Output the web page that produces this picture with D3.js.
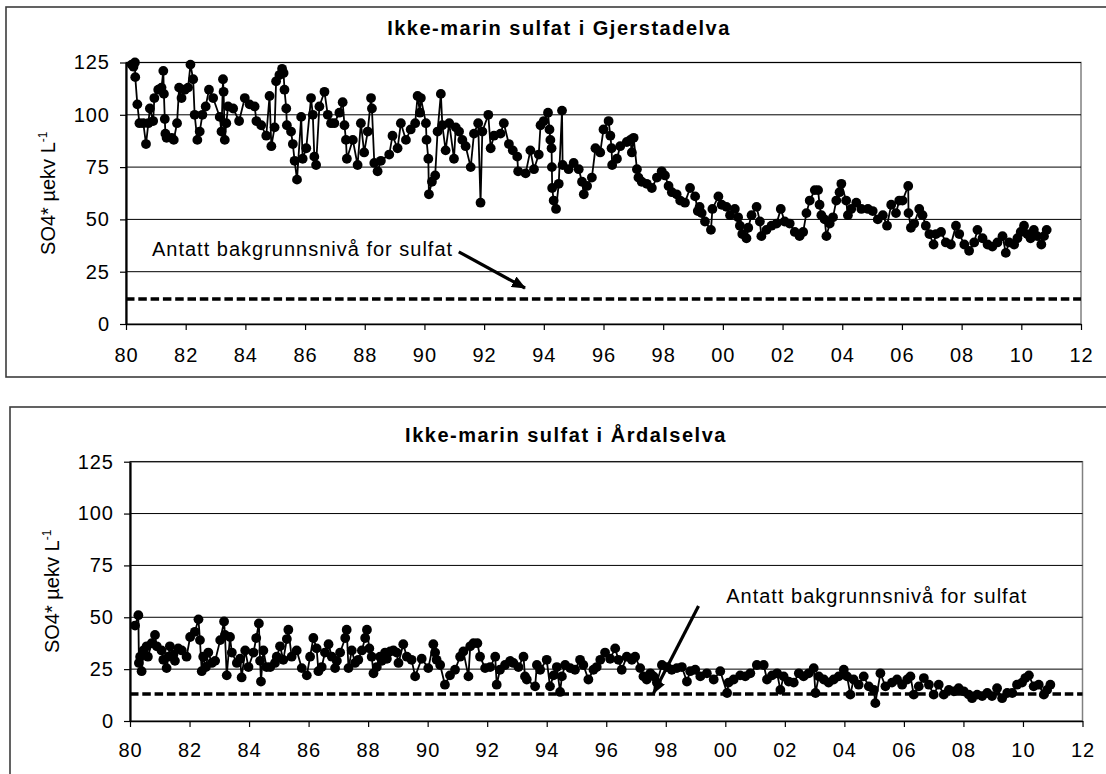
<!DOCTYPE html>
<html>
<head>
<meta charset="utf-8">
<script src="https://cdnjs.cloudflare.com/ajax/libs/d3/7.8.5/d3.min.js"></script>
<style>
  body { margin: 0; background: #fff; }
  svg text { font-family: Arial, 'Liberation Sans', sans-serif; fill: #000; }
</style>
</head>
<body>
<svg></svg>
<script>
var width = 1106;
var height = 774;

var yearTicks = [1980, 1982, 1984, 1986, 1988, 1990, 1992, 1994, 1996, 1998, 2000, 2002, 2004, 2006, 2008, 2010, 2012];
var valueTicks = [0, 25, 50, 75, 100, 125];

// antatt bakgrunnsnivå (µekv/L)
var gjerstadBackground = 12;
var aardalBackground = 13;

// [år, SO4*] lest av figuren
var gjerstadelva = [
  [1980.19,124],[1980.25,123],[1980.30,125],[1980.31,118],[1980.38,105],[1980.45,96],[1980.58,96],[1980.67,86],[1980.75,96],[1980.80,103],[1980.91,97],[1980.95,108],
  [1981.08,112],[1981.19,113],[1981.25,121],[1981.27,110],[1981.30,98],[1981.32,91],[1981.36,89],[1981.53,89],[1981.60,88],[1981.71,96],[1981.78,113],[1981.86,108],[1981.97,112],
  [1982.08,113],[1982.16,124],[1982.25,117],[1982.30,100],[1982.39,88],[1982.47,92],[1982.56,100],[1982.67,104],[1982.78,112],[1982.92,108],
  [1983.14,99],[1983.20,92],[1983.25,117],[1983.27,111],[1983.31,88],[1983.36,96],[1983.42,104],[1983.59,103],[1983.79,97],[1983.98,108],
  [1984.14,105],[1984.31,104],[1984.37,97],[1984.53,95],[1984.70,90],[1984.81,109],[1984.87,85],[1984.98,94],
  [1985.03,116],[1985.14,119],[1985.23,122],[1985.28,120],[1985.31,112],[1985.37,103],[1985.39,95],[1985.53,92],[1985.59,86],[1985.65,78],[1985.73,69],[1985.87,99],[1985.92,79],
  [1986.04,84],[1986.20,108],[1986.26,100],[1986.31,80],[1986.37,76],[1986.48,104],[1986.65,111],[1986.76,100],[1986.87,96],[1986.98,96],
  [1987.15,101],[1987.26,106],[1987.32,95],[1987.37,88],[1987.40,79],[1987.60,88],[1987.76,76],[1987.87,96],[1987.98,82],
  [1988.10,92],[1988.21,108],[1988.24,103],[1988.32,77],[1988.43,73],[1988.54,78],[1988.82,81],[1988.93,90],
  [1989.10,84],[1989.21,96],[1989.38,88],[1989.54,93],[1989.69,96],[1989.77,109],[1989.85,101],[1989.88,108],
  [1990.05,96],[1990.07,88],[1990.13,79],[1990.15,62],[1990.25,68],[1990.36,71],[1990.44,92],[1990.55,110],[1990.60,95],[1990.71,83],[1990.83,96],[1990.99,79],
  [1991.05,94],[1991.16,92],[1991.27,88],[1991.38,85],[1991.55,75],[1991.66,91],[1991.80,96],[1991.88,58],[1991.94,92],
  [1992.14,100],[1992.22,84],[1992.33,90],[1992.55,91],[1992.66,96],[1992.83,86],[1992.96,83],
  [1993.11,80],[1993.14,73],[1993.39,72],[1993.55,83],[1993.67,74],[1993.83,81],[1993.89,95],
  [1994.00,97],[1994.14,101],[1994.19,93],[1994.22,88],[1994.26,84],[1994.27,75],[1994.28,65],[1994.33,59],[1994.41,55],[1994.50,67],[1994.61,102],[1994.63,76],[1994.83,74],
  [1995.00,77],[1995.17,74],[1995.28,68],[1995.34,62],[1995.45,66],[1995.61,70],[1995.73,84],[1995.89,82],
  [1996.00,93],[1996.17,97],[1996.23,90],[1996.27,84],[1996.29,76],[1996.45,79],[1996.56,85],[1996.78,87],[1996.90,88],[1996.95,82],[1997.01,89],
  [1997.12,74],[1997.17,70],[1997.28,68],[1997.45,67],[1997.62,65],[1997.79,70],[1997.95,73],
  [1998.06,71],[1998.18,66],[1998.29,63],[1998.45,62],[1998.57,59],[1998.73,58],[1998.90,65],
  [1999.07,61],[1999.16,54],[1999.22,56],[1999.29,53],[1999.40,49],[1999.60,45],[1999.65,55],[1999.85,61],[1999.96,57],
  [2000.12,56],[2000.24,52],[2000.40,55],[2000.51,51],[2000.57,47],[2000.65,43],[2000.79,41],[2000.85,46],[2000.96,52],
  [2001.13,56],[2001.24,49],[2001.29,42],[2001.46,45],[2001.63,47],[2001.80,48],[2001.94,55],
  [2002.07,49],[2002.24,48],[2002.41,44],[2002.57,42],[2002.69,44],[2002.80,53],[2002.91,59],
  [2003.08,64],[2003.19,64],[2003.24,57],[2003.30,52],[2003.41,50],[2003.47,42],[2003.58,48],[2003.69,51],[2003.80,59],[2003.91,63],[2003.97,67],
  [2004.13,59],[2004.19,52],[2004.30,55],[2004.47,58],[2004.64,55],[2004.86,55],
  [2005.02,54],[2005.19,50],[2005.36,52],[2005.50,47],[2005.64,57],[2005.80,53],[2005.91,59],
  [2006.02,59],[2006.21,66],[2006.22,53],[2006.30,46],[2006.41,48],[2006.58,55],[2006.69,52],[2006.80,47],[2006.92,43],
  [2007.06,38],[2007.14,43],[2007.31,44],[2007.47,39],[2007.64,38],[2007.81,47],[2007.92,43],
  [2008.09,38],[2008.25,35],[2008.42,39],[2008.53,45],[2008.70,41],[2008.87,38],
  [2009.03,37],[2009.20,39],[2009.37,42],[2009.48,34],[2009.59,39],[2009.76,38],[2009.87,41],[2009.98,44],
  [2010.09,47],[2010.20,43],[2010.31,41],[2010.42,45],[2010.53,42],[2010.67,38],[2010.76,42],[2010.85,45]
];

var aardalselva = [
  [1980.17,46],[1980.28,51],[1980.30,28],[1980.34,31],[1980.39,24],[1980.45,34],[1980.56,36],[1980.60,31],[1980.73,37.5],[1980.84,41.5],[1980.90,36],
  [1981.06,34],[1981.12,29.5],[1981.23,25.5],[1981.29,31],[1981.34,36],[1981.46,32],[1981.51,29],[1981.62,35],[1981.74,34],[1981.90,31],
  [1982.02,40.5],[1982.18,43],[1982.30,49],[1982.35,39],[1982.41,24],[1982.46,31],[1982.55,26],[1982.63,33],[1982.75,28],[1982.86,29],
  [1983.03,39],[1983.16,48],[1983.19,41.5],[1983.25,22],[1983.36,40.5],[1983.42,33],[1983.59,28],[1983.70,30],[1983.75,21],[1983.87,34],[1983.98,26],
  [1984.15,33],[1984.24,40],[1984.33,47],[1984.37,29],[1984.40,19],[1984.48,34],[1984.59,26],[1984.71,26],[1984.87,28],[1984.93,31],
  [1985.04,36],[1985.15,29.5],[1985.27,39.5],[1985.32,44],[1985.43,31],[1985.60,34],[1985.77,25.5],[1985.94,22],
  [1986.05,31],[1986.16,40],[1986.27,35],[1986.33,24],[1986.44,26],[1986.55,33],[1986.67,37],[1986.78,31],[1986.89,25.5],[1986.95,29],
  [1987.06,33],[1987.23,40],[1987.28,44],[1987.34,25.5],[1987.45,34],[1987.56,28],[1987.67,29.5],[1987.79,34],[1987.90,40],[1987.96,44],
  [1988.04,35],[1988.12,31],[1988.18,23],[1988.29,26],[1988.40,31],[1988.46,29],[1988.57,33],[1988.63,30],[1988.74,33.5],[1988.85,34],[1988.96,33],
  [1989.02,28],[1989.18,37],[1989.30,31],[1989.46,29.5],[1989.58,21.5],[1989.80,30],
  [1990.02,25.5],[1990.19,37],[1990.25,33],[1990.30,29.5],[1990.42,27],[1990.58,17.5],[1990.75,22],[1990.92,24.7],
  [1991.09,31],[1991.20,33.5],[1991.37,21.5],[1991.43,36],[1991.54,37.5],[1991.67,37.5],[1991.76,31],[1991.93,25.5],
  [1992.10,26],[1992.27,31],[1992.32,17.5],[1992.43,24.7],[1992.60,27],[1992.77,29],[1992.88,28],
  [1993.05,26],[1993.22,31],[1993.27,21.5],[1993.33,20],[1993.61,16.7],[1993.67,27],[1993.78,24.7],
  [1994.00,29.5],[1994.11,16.7],[1994.23,22],[1994.34,26],[1994.45,14],[1994.51,21.5],[1994.62,27],[1994.79,25.5],[1994.95,24.7],
  [1995.12,29.5],[1995.23,27],[1995.40,20],[1995.57,24.7],[1995.68,26],[1995.80,29.5],[1995.96,33],
  [1996.13,30],[1996.30,35],[1996.41,29.5],[1996.52,24.7],[1996.69,31],[1996.86,29.5],[1996.97,31],
  [1997.14,25.5],[1997.25,21.5],[1997.36,20],[1997.48,23],[1997.59,21.5],[1997.70,18.5],[1997.87,27],
  [1998.04,26],[1998.20,24.7],[1998.37,25.5],[1998.54,26],[1998.71,19],[1998.82,24],[1998.99,24.7],
  [1999.16,21.5],[1999.38,23],[1999.61,20],[1999.83,24],
  [2000.06,13.5],[2000.11,18.5],[2000.28,20],[2000.50,22],[2000.67,21.5],[2000.84,23],
  [2001.06,27],[2001.29,27],[2001.40,20],[2001.57,22],[2001.74,23],[2001.85,15],[2001.96,21.5],
  [2002.13,19],[2002.30,18.5],[2002.47,23],[2002.63,21.5],[2002.80,23],[2002.97,25.5],
  [2003.03,13.5],[2003.14,21.5],[2003.31,20],[2003.47,18.5],[2003.64,20],[2003.81,21.5],[2003.98,24.7],
  [2004.09,21.5],[2004.20,12.7],[2004.31,20],[2004.48,17.5],[2004.65,21.5],[2004.82,16.7],[2004.99,15],
  [2005.04,8.6],[2005.21,23],[2005.38,16.7],[2005.60,18.5],[2005.77,20],[2005.94,17.5],
  [2006.11,20],[2006.22,21.5],[2006.33,12.7],[2006.50,16.7],[2006.67,20.7],[2006.84,17.5],
  [2007.00,12.7],[2007.17,17.5],[2007.34,12.7],[2007.51,15],[2007.68,14.3],[2007.84,15.8],
  [2008.01,14.3],[2008.18,12.7],[2008.29,11],[2008.46,12.7],[2008.63,12],[2008.80,13.5],[2008.96,12],
  [2009.13,15.8],[2009.30,11],[2009.47,13.5],[2009.64,13.5],[2009.80,17.5],[2009.97,18.5],
  [2010.08,20.7],[2010.20,22],[2010.36,16.7],[2010.53,17.5],[2010.70,12.7],[2010.81,15],[2010.92,17.5]
];

var svg = d3.select('svg')
			.attr('width', width)
			.attr('height', height);

svg.append('defs')
  .append('marker')
    .attr('id', 'arrowhead')
    .attr('markerUnits', 'userSpaceOnUse')
    .attr('viewBox', '0 0 14 12')
    .attr('refX', 13)
    .attr('refY', 6)
    .attr('markerWidth', 14)
    .attr('markerHeight', 12)
    .attr('orient', 'auto')
  .append('path')
    .attr('d', 'M0,0 L14,6 L0,12 Z')
    .attr('fill', '#000');

drawChart({
	title: 'Ikke-marin sulfat i Gjerstadelva',
	data: gjerstadelva,
	background: gjerstadBackground,
	box: [6, 7, 1120, 370],
	left: 126, right: 1081, top: 62.5, bottom: 324,
	titleX: 559, titleY: 35,
	xLabelY: 38,
	yLabelX: 55,
	noteAt: [1980.87, 32.5],
	arrowFrom: [1991.15, 34.5],
	arrowTo: [1993.37, 17.2]
});

drawChart({
	title: 'Ikke-marin sulfat i Årdalselva',
	data: aardalselva,
	background: aardalBackground,
	box: [10, 407, 1120, 400],
	left: 130, right: 1082.5, top: 461.7, bottom: 721,
	titleX: 566, titleY: 442,
	xLabelY: 36,
	yLabelX: 59,
	noteAt: [2000.03, 57],
	arrowFrom: [1999.1, 55.4],
	arrowTo: [1997.59, 13.4]
});

function drawChart(o) {
	var g = svg.append('g');

	var x = d3.scaleLinear()
			  .domain([1980, 2012])
			  .range([o.left, o.right]);
	var y = d3.scaleLinear()
			  .domain([0, 125])
			  .range([o.bottom, o.top]);

	// outer frame
	g.append('rect')
	  .attr('x', o.box[0])
	  .attr('y', o.box[1])
	  .attr('width', o.box[2])
	  .attr('height', o.box[3])
	  .attr('fill', 'none')
	  .attr('stroke', '#3c3c3c')
	  .attr('stroke-width', 1.6);

	// plot area border
	g.append('rect')
	  .attr('x', o.left)
	  .attr('y', o.top)
	  .attr('width', o.right - o.left)
	  .attr('height', o.bottom - o.top)
	  .attr('fill', 'none')
	  .attr('stroke', '#808080')
	  .attr('stroke-width', 1.5);

	g.selectAll('.grid')
	  .data(valueTicks.filter(v => v > 0))
	  .enter()
	  .append('line')
	    .classed('grid', true)
	    .attr('x1', o.left)
	    .attr('x2', o.right)
	    .attr('y1', d => y(d))
	    .attr('y2', d => y(d))
	    .attr('stroke', '#000')
	    .attr('stroke-width', 1);

	g.append('line')
	  .attr('x1', o.left)
	  .attr('x2', o.right)
	  .attr('y1', y(o.background))
	  .attr('y2', y(o.background))
	  .attr('stroke', '#000')
	  .attr('stroke-width', 3.5)
	  .attr('stroke-dasharray', '8.5,3.8');

	var line = d3.line()
				 .x(d => x(d[0]))
				 .y(d => y(d[1]));

	g.append('path')
	  .datum(o.data)
	  .attr('d', line)
	  .attr('fill', 'none')
	  .attr('stroke', '#000')
	  .attr('stroke-width', 1.8);

	g.selectAll('.pt')
	  .data(o.data)
	  .enter()
	  .append('circle')
	    .classed('pt', true)
	    .attr('cx', d => x(d[0]))
	    .attr('cy', d => y(d[1]))
	    .attr('r', 4.9)
	    .attr('fill', '#000');

	var xAxis = d3.axisBottom(x)
				  .tickValues(yearTicks)
				  .tickSize(6)
				  .tickSizeOuter(0)
				  .tickFormat(d => String(d % 100).padStart(2, '0'));
	var yAxis = d3.axisLeft(y)
				  .tickValues(valueTicks)
				  .tickSize(6)
				  .tickSizeOuter(0);

	var gx = g.append('g')
			  .attr('transform', `translate(0, ${o.bottom})`)
			  .call(xAxis);
	gx.select('.domain').attr('stroke', '#000').attr('stroke-width', 1.5);
	gx.selectAll('.tick line').attr('stroke', '#000').attr('stroke-width', 1.2);
	gx.selectAll('.tick text')
	  .attr('y', o.xLabelY)
	  .attr('dy', null)
	  .attr('font-size', 20)
	  .attr('letter-spacing', 1)
	  .attr('font-family', 'Arial, Liberation Sans, sans-serif');

	var gy = g.append('g')
			  .attr('transform', `translate(${o.left}, 0)`)
			  .call(yAxis);
	gy.select('.domain').attr('stroke', '#000').attr('stroke-width', 2.2);
	gy.selectAll('.tick line').attr('stroke', '#000').attr('stroke-width', 1.2);
	gy.selectAll('.tick text')
	  .attr('x', -16)
	  .attr('font-size', 20)
	  .attr('letter-spacing', 1)
	  .attr('font-family', 'Arial, Liberation Sans, sans-serif');

	g.append('text')
	  .attr('x', o.titleX)
	  .attr('y', o.titleY)
	  .attr('text-anchor', 'middle')
	  .attr('font-size', 20)
	  .attr('font-weight', 'bold')
	  .attr('letter-spacing', 1.5)
	  .text(o.title);

	var yl = g.append('text')
			  .attr('text-anchor', 'middle')
			  .attr('font-size', 20)
			  .attr('transform', `translate(${o.yLabelX}, ${(o.top + o.bottom) / 2}) rotate(-90)`);
	yl.append('tspan').text('SO4* µekv L');
	yl.append('tspan')
	  .attr('font-size', 12)
	  .attr('dy', -8)
	  .text('-1');

	g.append('text')
	  .attr('x', x(o.noteAt[0]))
	  .attr('y', y(o.noteAt[1]))
	  .attr('font-size', 20)
	  .attr('letter-spacing', 1)
	  .text('Antatt bakgrunnsnivå for sulfat');

	g.append('line')
	  .attr('x1', x(o.arrowFrom[0]))
	  .attr('y1', y(o.arrowFrom[1]))
	  .attr('x2', x(o.arrowTo[0]))
	  .attr('y2', y(o.arrowTo[1]))
	  .attr('stroke', '#000')
	  .attr('stroke-width', 3.2)
	  .attr('marker-end', 'url(#arrowhead)');
}
</script>
</body>
</html>
